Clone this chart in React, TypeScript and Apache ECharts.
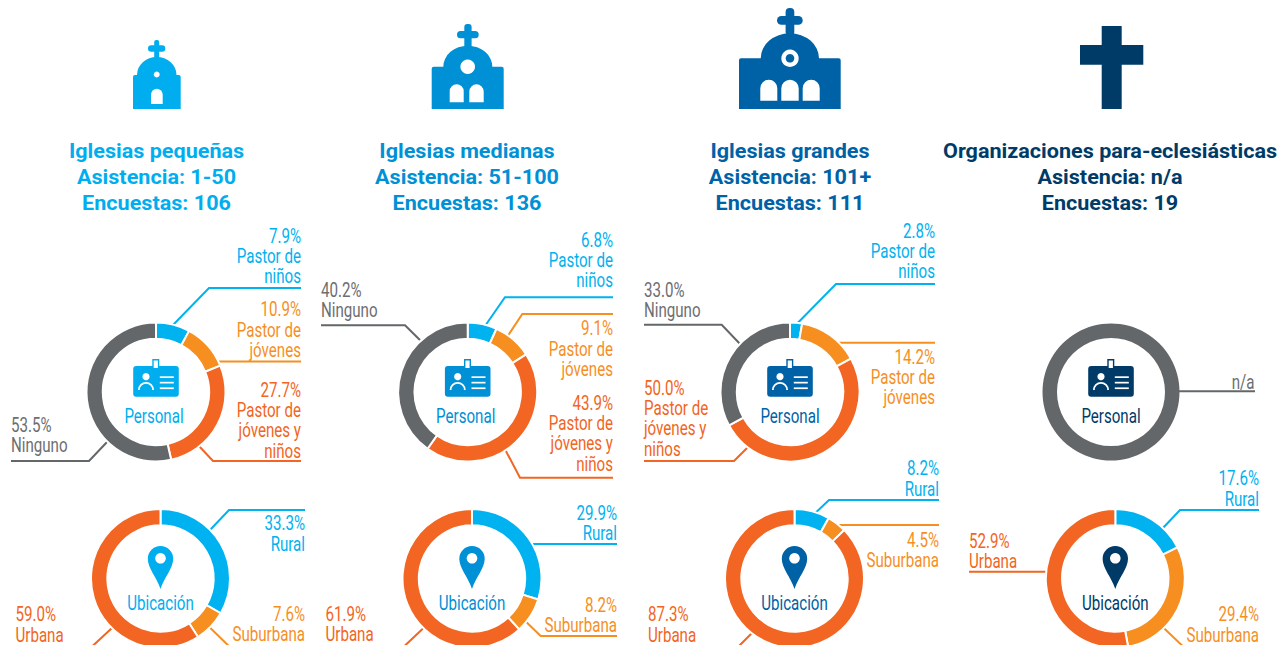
import React, { useEffect, useRef } from "react";
import * as echarts from "echarts";

// ---- data ----
const personalCategories = ["Pastor de\nniños", "Pastor de\njóvenes", "Pastor de\njóvenes y\nniños", "Ninguno"];
const locationCategories = ["Rural", "Suburbana", "Urbana"];
const personalSmall = [7.9, 10.9, 27.7, 53.5];
const personalMedium = [6.8, 9.1, 43.9, 40.2];
const personalLarge = [2.8, 14.2, 50.0, 33.0];
const locationSmall = [33.3, 7.6, 59.0];
const locationMedium = [29.9, 8.2, 61.9];
const locationLarge = [8.2, 4.5, 87.3];
const locationOrgs = [17.6, 29.4, 52.9];
const titles = [
  ["Iglesias pequeñas", "Asistencia: 1-50", "Encuestas: 106"],
  ["Iglesias medianas", "Asistencia: 51-100", "Encuestas: 136"],
  ["Iglesias grandes", "Asistencia: 101+", "Encuestas: 111"],
  ["Organizaciones para-eclesiásticas", "Asistencia: n/a", "Encuestas: 19"],
];
const centerLabels = ["Personal", "Ubicación"];

// ---- styles / layout ----
const BLUE = "#00B2EF";
const ORANGE = "#F68F1F";
const RED = "#F26522";
const GRAY = "#63676A";
const TEXT_GRAY = "#6D6E71";
const personalColors = [BLUE, ORANGE, RED, GRAY];
const locationColors = [BLUE, ORANGE, RED];
const columnColors = ["#00AEEF", "#0090D6", "#0062A6", "#003B68"];
const TITLE_FONT = "Roboto";
const NARROW_FONT = "Roboto";
const NARROW_SCALE = 0.72;
const LABEL_SIZE = 21;
const LINE_STEP = 20.2;

type Pt = [number, number];
type Lab = { x: number; y: number; right: boolean; line: Pt[] };

const personalCenters: Pt[] = [[156, 392], [467.7, 392], [790, 392], [1111, 392]];
const locationCenters: Pt[] = [[160.5, 578.5], [472, 578.5], [794.5, 578.5], [1115.3, 578.5]];
const textShift = [-2, -2, 0, 0];
const titleCenters = [156.5, 467, 790, 1110];

const personalLayout: Lab[][] = [
  [
    { x: 301, y: 235.5, right: true, line: [[173, 325], [209, 288], [301, 288]] },
    { x: 301, y: 309, right: true, line: [[217, 361.5], [301, 361.5]] },
    { x: 301, y: 389.5, right: true, line: [[199, 446], [213, 461], [301, 461]] },
    { x: 11, y: 424.5, right: false, line: [[108, 441], [89, 461], [11, 461]] },
  ],
  [
    { x: 613, y: 239.5, right: true, line: [[485, 326], [505, 297.3], [613, 297.3]] },
    { x: 613, y: 328, right: true, line: [[507.3, 336.7], [522.3, 314], [613, 314]] },
    { x: 613, y: 402.5, right: true, line: [[505, 449.3], [520, 477.7], [613, 477.7]] },
    { x: 321, y: 289.5, right: false, line: [[321, 325.3], [405, 325.3], [421.7, 341.7]] },
  ],
  [
    { x: 935, y: 230.5, right: true, line: [[795.7, 325], [836, 284], [935, 284]] },
    { x: 935, y: 356.2, right: true, line: [[837.3, 342.7], [935, 342.7]] },
    { x: 644, y: 387.5, right: false, line: [[748.3, 446.7], [734, 461], [644, 461]] },
    { x: 644, y: 289.5, right: false, line: [[644, 324.7], [721.7, 324.7], [741, 345]] },
  ],
];
const locationLayout: Lab[][] = [
  [
    { x: 305, y: 523, right: true, line: [[210, 530], [229, 510], [305, 510]] },
    { x: 305, y: 613.5, right: true, line: [[208.3, 626], [236, 653], [305, 653]] },
    { x: 15.5, y: 614, right: false, line: [[111.7, 628.3], [85, 653], [15, 653]] },
  ],
  [
    { x: 617, y: 512.5, right: true, line: [[531, 544], [617, 544]] },
    { x: 617, y: 604.5, right: true, line: [[526, 621.7], [540.7, 636], [617, 636]] },
    { x: 325.5, y: 613.5, right: false, line: [[423.3, 628.3], [397, 653], [325, 653]] },
  ],
  [
    { x: 939, y: 468, right: true, line: [[815, 513.3], [829, 500], [939, 500]] },
    { x: 939, y: 539.5, right: true, line: [[833.3, 525], [939, 525]] },
    { x: 648, y: 614, right: false, line: [[751.7, 633.3], [732, 653], [648, 653]] },
  ],
  [
    { x: 1259, y: 478, right: true, line: [[1162.7, 528.3], [1180, 510], [1259, 510]] },
    { x: 1259, y: 614, right: true, line: [[1164, 628.3], [1190, 653], [1259, 653]] },
    { x: 969, y: 540.5, right: false, line: [[1047.3, 571.7], [969, 571.7]] },
  ],
];

// ---- icon shapes ----
function door(x0: number, x1: number, top: number, bottom: number) {
  const r = (x1 - x0) / 2;
  return `M${x0} ${bottom}L${x0} ${top + r}A${r} ${r} 0 0 1 ${x1} ${top + r}L${x1} ${bottom}Z`;
}
function church(left: number, right: number, bottom: number, shoulder: number, domeL: number, domeR: number, domeTop: number) {
  const rx = (domeR - domeL) / 2;
  const ry = shoulder - domeTop;
  return `M${left} ${bottom}L${left} ${shoulder + 2}Q${left} ${shoulder} ${left + 2} ${shoulder}L${domeL} ${shoulder}A${rx} ${ry} 0 0 1 ${domeR} ${shoulder}L${right - 2} ${shoulder}Q${right} ${shoulder} ${right} ${shoulder + 2}L${right} ${bottom}Z`;
}
const reg = (name: string, d: string) => echarts.graphic.registerShape(name, echarts.graphic.extendPath(d, {}) as any);
reg("churchS", church(133, 180.7, 109, 75, 137, 176.5, 57));
reg("churchM", church(431.7, 503.7, 109, 66.7, 443.3, 492.3, 45.7));
reg("churchL", church(739, 840.7, 109, 58.3, 760.7, 819, 33.3));
reg("doorsS", door(151, 162.7, 88.7, 104));
reg("doorsM", door(449.7, 463.7, 84.3, 102.3) + door(469.3, 483.7, 84.3, 102.3));
reg("doorsL", door(760.3, 777.3, 79.7, 100.7) + door(781.3, 798.7, 79.7, 100.7) + door(802.7, 819.7, 79.7, 100.7));
reg("pin", "M0 10.5C-4 -2 -12.7 -10 -12.7 -19.8A12.7 12.7 0 0 1 12.7 -19.8C12.7 -10 4 -2 0 10.5Z");

const rectEl = (x: number, y: number, w: number, h: number, fill: string, r = 0) => ({
  type: "rect", silent: true, shape: { x, y, width: w, height: h, r }, style: { fill },
});
const circleEl = (cx: number, cy: number, r: number, fill: string) => ({
  type: "circle", silent: true, shape: { cx, cy, r }, style: { fill },
});
const shapeEl = (type: string, fill: string, extra: object = {}) => ({ type, silent: true, x: 0, y: 0, style: { fill }, ...extra });

function churchIcons() {
  const [a, b, c, d] = columnColors;
  return [
    rectEl(154.2, 40, 5, 20, a, 2),
    rectEl(148, 45.3, 17.3, 6.4, a, 3.2),
    shapeEl("churchS", a),
    circleEl(156.7, 74.5, 3, "#fff"),
    shapeEl("doorsS", "#fff"),

    rectEl(464.3, 24, 7.3, 25, b, 3),
    rectEl(457, 31, 21.7, 7.3, b, 3.6),
    shapeEl("churchM", b),
    circleEl(467.7, 66.7, 7.3, "#fff"),
    shapeEl("doorsM", "#fff"),

    rectEl(785.6, 8, 8.7, 28, c, 4),
    rectEl(777, 16, 25.7, 8.7, c, 4.3),
    shapeEl("churchL", c),
    circleEl(790, 58.3, 8.7, "#fff"),
    circleEl(790, 58.3, 4.3, c),
    shapeEl("doorsL", "#fff"),

    rectEl(1101.7, 26, 20, 83, d),
    rectEl(1080, 45, 63.3, 19.7, d),
  ];
}

function badge(cx: number, cy: number, color: string) {
  return [
    rectEl(cx - 22.8, cy - 26, 45.6, 30.7, color, 3),
    { type: "rect", silent: true, shape: { x: cx - 3, y: cy - 32.3, width: 5.6, height: 9 }, style: { fill: "#fff", stroke: color, lineWidth: 1.4 } },
    circleEl(cx - 10, cy - 15.3, 3.6, "#fff"),
    { type: "arc", silent: true, shape: { cx: cx - 10, cy: cy - 2, r: 7.1, startAngle: Math.PI, endAngle: 2 * Math.PI, clockwise: true }, style: { stroke: "#fff", lineWidth: 1.8, fill: "none" } },
    rectEl(cx + 3.8, cy - 15.7, 14, 1.7, "#fff"),
    rectEl(cx + 3.8, cy - 10.2, 14, 1.7, "#fff"),
    rectEl(cx + 3.8, cy - 4.6, 14, 1.7, "#fff"),
  ];
}

function narrowText(text: string, x: number, y: number, color: string, align: string, size = LABEL_SIZE, scale = NARROW_SCALE) {
  return {
    type: "text", silent: true, x, y, scaleX: scale,
    style: { text, fill: color, font: `${size}px ${NARROW_FONT}`, textAlign: align, textVerticalAlign: "middle" },
  };
}

function labelEls(values: number[], names: string[], colors: string[], layout: Lab[]) {
  const els: any[] = [];
  values.forEach((v, i) => {
    const l = layout[i];
    const color = colors[i] === GRAY ? TEXT_GRAY : colors[i];
    const lines = [`${v.toFixed(1)}%`, ...names[i].split("\n")];
    lines.forEach((t, k) => els.push(narrowText(t, l.x, l.y + k * LINE_STEP, color, l.right ? "right" : "left")));
    els.push({ type: "polyline", silent: true, shape: { points: l.line }, style: { stroke: colors[i], lineWidth: 2, fill: "none" } });
  });
  return els;
}

function donut(center: Pt, values: number[], names: string[], colors: string[], border: boolean) {
  return {
    type: "pie",
    silent: true,
    center,
    radius: border ? [53.2, 69.5] : [54, 68.5],
    startAngle: 90,
    clockwise: true,
    label: { show: false },
    labelLine: { show: false },
    itemStyle: border ? { borderColor: "#fff", borderWidth: 2 } : {},
    data: values.map((value, i) => ({ value, name: names[i].replace(/\n/g, " "), itemStyle: { color: colors[i] } })),
  };
}

export default function App() {
  const ref = useRef<HTMLDivElement>(null);
  useEffect(() => {
    const chart = echarts.init(ref.current!, undefined, { renderer: "svg" });
    const personal = [personalSmall, personalMedium, personalLarge];
    const location = [locationSmall, locationMedium, locationLarge, locationOrgs];
    const series: any[] = [];
    const graphics: any[] = [...churchIcons()];

    personal.forEach((vals, i) => {
      series.push(donut(personalCenters[i], vals, personalCategories, personalColors, true));
      graphics.push(...labelEls(vals, personalCategories, personalColors, personalLayout[i]));
    });
    series.push(donut(personalCenters[3], [100], ["n/a"], [GRAY], false));
    graphics.push(narrowText("n/a", 1254.5, 382, TEXT_GRAY, "right"));
    graphics.push({ type: "polyline", silent: true, shape: { points: [[1178, 391.3], [1255, 391.3]] }, style: { stroke: GRAY, lineWidth: 2, fill: "none" } });

    location.forEach((vals, i) => {
      series.push(donut(locationCenters[i], vals, locationCategories, locationColors, true));
      graphics.push(...labelEls(vals, locationCategories, locationColors, locationLayout[i]));
    });

    columnColors.forEach((color, i) => {
      titles[i].forEach((t, k) => {
        graphics.push({
          type: "text", silent: true, x: titleCenters[i], y: 151 + k * 26, scaleX: 1.08,
          style: { text: t, fill: color, font: `bold 20px ${TITLE_FONT}`, textAlign: "center", textVerticalAlign: "middle" },
        });
      });
      const [px, py] = personalCenters[i];
      graphics.push(...badge(px, py, color));
      graphics.push(narrowText(centerLabels[0], px + textShift[i], 415.5, color, "center"));
      const [lx, ly] = locationCenters[i];
      graphics.push(shapeEl("pin", color, { x: lx, y: ly }));
      graphics.push(circleEl(lx, ly - 20.2, 5.3, "#fff"));
      graphics.push(narrowText(centerLabels[1], lx, 602.5, color, "center"));
    });

    chart.setOption({ animation: false, backgroundColor: "#fff", series, graphic: { elements: graphics } });
    return () => chart.dispose();
  }, []);
  return <div ref={ref} style={{ position: "absolute", left: 0, top: 0, width: 1286, height: 645 }} />;
}
